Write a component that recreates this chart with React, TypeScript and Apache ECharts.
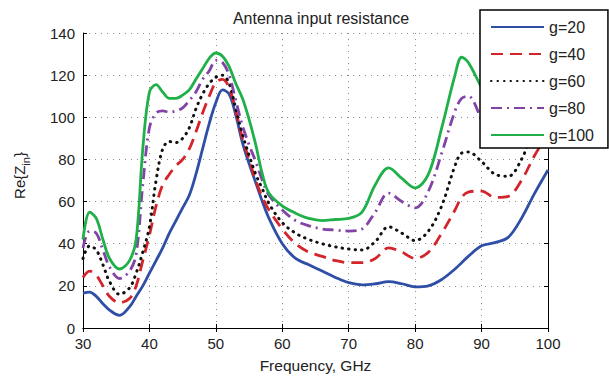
import React, { useEffect, useRef } from "react";
import * as echarts from "echarts";

const freq = [30, 31, 32, 33, 34, 35.5, 37, 38, 39, 40, 41, 42, 43, 44, 45, 46, 47, 48, 49, 50, 51, 52, 53, 54, 55, 56, 57, 58, 60, 62, 64, 66, 68, 70, 72, 74, 76, 78, 80, 82, 84, 86, 87, 88, 90, 92, 94, 96, 98, 100];

const g20 = [16.5, 17, 15, 11.5, 8.5, 6, 10, 15, 20, 26, 32, 38, 45, 51, 57, 63, 73, 85, 97, 107, 113, 111, 101, 88, 78, 69, 60, 52, 40, 33, 30, 27, 24, 21.5, 20.5, 21, 22, 21, 19.5, 20, 23, 28, 31, 34, 39, 40.5, 43, 52, 64, 75];
const g40 = [24, 27, 25, 20, 15, 12, 14, 20, 32, 44, 58, 68, 73, 77, 80, 85, 93, 102, 110, 116.5, 118, 114, 103, 90, 80, 70, 62, 56, 47, 40, 36, 34, 32, 31, 31, 33, 38, 36, 33, 36, 45, 56, 62, 64.5, 65, 62, 62.5, 70, 82, 92];
const g60 = [33, 39, 37, 30, 22, 16, 19, 26, 36, 48, 70, 85, 88.5, 88, 90, 95, 104, 111, 116, 119, 120, 116, 104, 92, 82, 73, 66, 59, 50, 45, 42, 40, 38.5, 37.5, 37, 41, 48, 45, 41.5, 46, 58, 77, 83, 83.5, 79, 73, 72, 80, 95, 105];
const g80 = [38, 46, 45, 37, 29, 23.5, 27, 35, 68, 95, 102, 103, 102.5, 103, 104.5, 108, 112, 118, 122, 127, 126, 120, 108, 96, 87, 79, 70, 63, 56, 51, 48.5, 47, 46.5, 46, 47, 55, 64, 60, 57, 65, 83, 103, 109, 110, 99, 88, 89, 97, 108, 115];
const g100 = [42, 55, 52, 42, 33, 28, 32, 42, 85, 112, 115.5, 112, 109, 109, 110.5, 113, 118, 123, 128, 130.5, 129, 124, 116, 109, 99, 87, 73, 64, 58, 54.5, 52, 51, 51.5, 52, 55, 68, 76, 71, 66.5, 73, 95, 120, 128.5, 126, 114, 102, 100, 106, 115, 122];

const seriesNames = ["g=20", "g=40", "g=60", "g=80", "g=100"];
const seriesValues = [g20, g40, g60, g80, g100];
const seriesColors = ["#2f4ea6", "#d4242b", "#111111", "#8243a6", "#1fb04a"];
const seriesDash: any[] = ["solid", [12, 7], [0.5, 6], [11, 5, 2, 5], "solid"];
const seriesCaps = ["butt", "butt", "round", "butt", "butt"];
const seriesWidths = [2.8, 2.8, 3, 2.8, 2.8];

const xTicks = { min: 30, max: 100, interval: 10 };
const yTicks = { min: 0, max: 140, interval: 20 };

export default function App() {
  const ref = useRef<HTMLDivElement>(null);
  useEffect(() => {
    if (!ref.current) return;
    const chart = echarts.init(ref.current, null, { renderer: "svg" });
    const font = "Liberation Sans, Arial, sans-serif";
    const splitLine = { show: true, lineStyle: { color: "#8a8a8a", type: [1, 5] as any, width: 1 } };
    const axisLine = { show: true, lineStyle: { color: "#000", width: 1 } };
    const tick = { show: true, inside: true, length: 4, lineStyle: { color: "#000" } };
    chart.setOption({
      animation: false,
      backgroundColor: "#fff",
      textStyle: { fontFamily: font },
      title: {
        text: "Antenna input resistance",
        left: 316,
        top: 5,
        textAlign: "center",
        textStyle: { fontSize: 16, fontWeight: "normal", color: "#222", fontFamily: font },
      },
      legend: {
        orient: "vertical",
        left: 480,
        top: 10,
        itemWidth: 53,
        itemHeight: 14,
        itemGap: 11,
        padding: [9, 14, 5, 10],
        backgroundColor: "#fff",
        borderColor: "#000",
        borderWidth: 1.5,
        itemStyle: { opacity: 0 },
        textStyle: { fontSize: 16, color: "#222", fontFamily: font },
        data: seriesNames,
      },
      grid: { left: 83, right: 61, top: 33, bottom: 48, show: false, outerBoundsMode: "none", containLabel: false },
      xAxis: [
        {
          type: "value",
          min: xTicks.min,
          max: xTicks.max,
          interval: xTicks.interval,
          position: "bottom",
          name: "Frequency, GHz",
          nameLocation: "middle",
          nameGap: 29,
          nameTextStyle: { fontSize: 15.5, color: "#222", fontFamily: font },
          axisLine,
          axisTick: tick,
          axisLabel: { fontSize: 15, color: "#222", margin: 8, fontFamily: font },
          splitLine,
        },
        {
          type: "value",
          min: xTicks.min,
          max: xTicks.max,
          interval: xTicks.interval,
          position: "top",
          axisLine,
          axisTick: tick,
          axisLabel: { show: false },
          splitLine: { show: false },
        },
      ],
      yAxis: [
        {
          type: "value",
          min: yTicks.min,
          max: yTicks.max,
          interval: yTicks.interval,
          position: "left",
          name: "Re{Z{s|in}}",
          nameLocation: "middle",
          nameGap: 52,
          nameRotate: 90,
          nameTextStyle: {
            fontSize: 15,
            color: "#222",
            fontFamily: font,
            padding: [0, 0, 0, 10],
            rich: { s: { fontSize: 11, color: "#222", fontFamily: font, padding: [12, 0, 0, 0] } },
          },
          axisLine,
          axisTick: tick,
          axisLabel: { fontSize: 15, color: "#222", margin: 8, fontFamily: font },
          splitLine,
        },
        {
          type: "value",
          min: yTicks.min,
          max: yTicks.max,
          interval: yTicks.interval,
          position: "right",
          axisLine,
          axisTick: tick,
          axisLabel: { show: false },
          splitLine: { show: false },
        },
      ],
      series: seriesNames.map((name, i) => ({
        name,
        type: "line",
        xAxisIndex: 0,
        yAxisIndex: 0,
        data: freq.map((f, j) => [f, seriesValues[i][j]]),
        smooth: 0.35,
        symbol: "none",
        color: seriesColors[i],
        lineStyle: { color: seriesColors[i], width: seriesWidths[i], type: seriesDash[i], cap: seriesCaps[i] },
      })),
    });
    return () => chart.dispose();
  }, []);
  return <div ref={ref} style={{ position: "absolute", left: 0, top: 0, width: 609, height: 376 }} />;
}
